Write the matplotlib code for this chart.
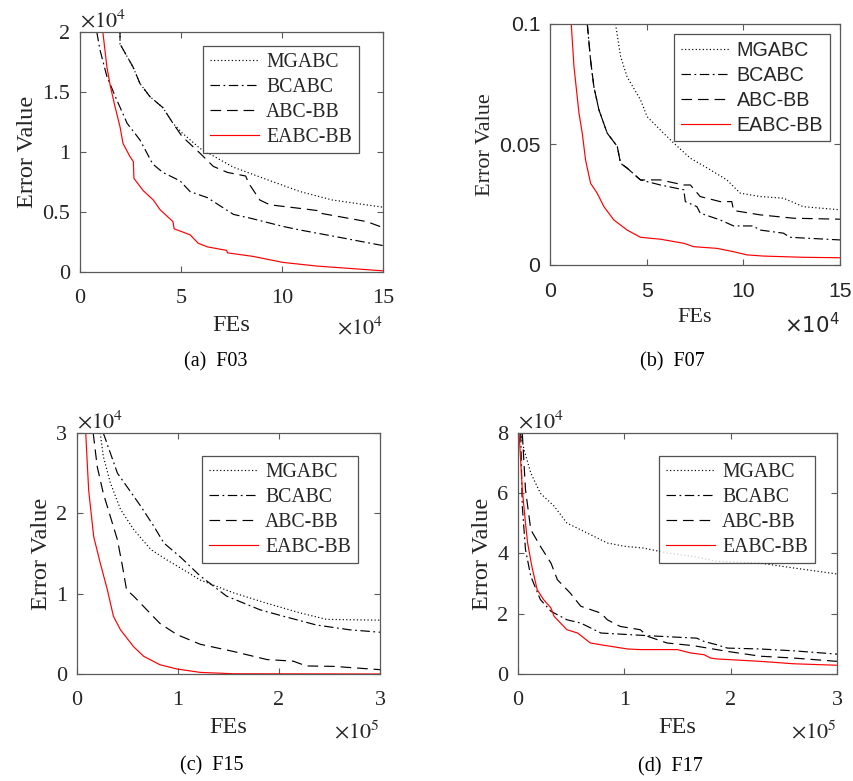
import matplotlib
matplotlib.use("Agg")
import matplotlib.pyplot as plt
from matplotlib.ticker import FuncFormatter

plt.rcParams["font.family"] = ["Liberation Serif", "DejaVu Serif"]
plt.rcParams["mathtext.fontset"] = "stix"

names = ["MGABC", "BCABC", "ABC-BB", "EABC-BB"]
dashes = [(1, 2), (8, 3, 1.5, 3), (9, 5), None]
colors = ["black", "black", "black", "red"]

# F03 (x in FEs, y in error)
f03_mg_x = [1.83e4, 1.98e4, 1.98e4, 2.62e4, 2.97e4, 3.47e4, 4.1e4, 4.6e4, 5.05e4, 5.94e4, 7.57e4, 9.26e4, 10.9e4, 12.5e4, 15e4]
f03_mg_y = [2.0e4, 2.0e4, 1.9e4, 1.71e4, 1.57e4, 1.46e4, 1.37e4, 1.24e4, 1.16e4, 1.03e4, 0.875e4, 0.77e4, 0.67e4, 0.6e4, 0.54e4]
f03_bc_x = [0.83e4, 0.99e4, 1.33e4, 1.83e4, 2.33e4, 2.97e4, 3.6e4, 4.1e4, 4.95e4, 5.45e4, 6.3e4, 7.6e4, 8.4e4, 10.05e4, 10.9e4, 12.5e4, 15e4]
f03_bc_y = [2.0e4, 1.85e4, 1.63e4, 1.43e4, 1.24e4, 1.1e4, 0.9e4, 0.83e4, 0.76e4, 0.67e4, 0.62e4, 0.48e4, 0.45e4, 0.38e4, 0.35e4, 0.30e4, 0.22e4]
f03_bb_x = [1.83e4, 1.98e4, 1.98e4, 2.62e4, 2.97e4, 3.47e4, 4.1e4, 4.6e4, 5.05e4, 5.94e4, 6.6e4, 7.3e4, 8.2e4, 8.35e4, 8.9e4, 9.4e4, 10.9e4, 11.85e4, 11.9e4, 14.2e4, 15e4]
f03_bb_y = [2.0e4, 2.0e4, 1.9e4, 1.71e4, 1.57e4, 1.46e4, 1.37e4, 1.24e4, 1.13e4, 0.99e4, 0.88e4, 0.83e4, 0.80e4, 0.74e4, 0.6e4, 0.56e4, 0.53e4, 0.51e4, 0.49e4, 0.42e4, 0.37e4]
f03_ea_x = [1.13e4, 1.33e4, 1.5e4, 1.73e4, 1.98e4, 2.13e4, 2.48e4, 2.64e4, 2.67e4, 3.12e4, 3.63e4, 3.96e4, 4.6e4, 4.66e4, 5.45e4, 5.85e4, 6.3e4, 7.26e4, 7.3e4, 8.57e4, 10.05e4, 11.7e4, 15e4]
f03_ea_y = [2.0e4, 1.71e4, 1.55e4, 1.38e4, 1.21e4, 1.07e4, 0.96e4, 0.92e4, 0.78e4, 0.68e4, 0.60e4, 0.52e4, 0.42e4, 0.36e4, 0.31e4, 0.24e4, 0.21e4, 0.18e4, 0.16e4, 0.13e4, 0.08e4, 0.05e4, 0.01e4]

# F07
f07_mg_x = [3.39e4, 3.65e4, 3.99e4, 4.68e4, 5.02e4, 5.71e4, 6.4e4, 7.26e4, 8.29e4, 9.15e4, 9.84e4, 10.87e4, 12.08e4, 13.1e4, 15e4]
f07_mg_y = [0.1, 0.0866, 0.078, 0.0686, 0.0616, 0.056, 0.0506, 0.0443, 0.0395, 0.0353, 0.0298, 0.0284, 0.0277, 0.0242, 0.0229]
f07_bc_x = [1.93e4, 2.1e4, 2.27e4, 2.53e4, 2.96e4, 3.48e4, 3.65e4, 3.99e4, 4.68e4, 5.71e4, 6.92e4, 7.0e4, 7.6e4, 7.77e4, 8.8e4, 9.5e4, 10.5e4, 10.87e4, 12.08e4, 12.4e4, 15e4]
f07_bc_y = [0.1, 0.085, 0.074, 0.0644, 0.0547, 0.0492, 0.0422, 0.0402, 0.0353, 0.0332, 0.0312, 0.0263, 0.0242, 0.0215, 0.0187, 0.0162, 0.0162, 0.0145, 0.0132, 0.0115, 0.0104]
f07_bb_x = [1.93e4, 2.1e4, 2.27e4, 2.53e4, 2.96e4, 3.48e4, 3.65e4, 3.99e4, 4.68e4, 5.71e4, 6.92e4, 7.26e4, 7.77e4, 8.8e4, 9.4e4, 9.5e4, 10.87e4, 12.6e4, 15e4]
f07_bb_y = [0.1, 0.085, 0.074, 0.0644, 0.0547, 0.0492, 0.0422, 0.0402, 0.0353, 0.0353, 0.0332, 0.0332, 0.0284, 0.0263, 0.0263, 0.0226, 0.0208, 0.0194, 0.019]
f07_ea_x = [1.1e4, 1.24e4, 1.5e4, 1.67e4, 1.84e4, 2.1e4, 2.44e4, 2.79e4, 3.3e4, 3.99e4, 4.68e4, 5.71e4, 6.92e4, 7.43e4, 8.64e4, 9.5e4, 10.18e4, 11.04e4, 13.1e4, 15e4]
f07_ea_y = [0.1, 0.0824, 0.063, 0.0547, 0.0436, 0.0339, 0.0298, 0.0242, 0.0187, 0.0145, 0.0115, 0.0107, 0.009, 0.0076, 0.0069, 0.0055, 0.0042, 0.0037, 0.0032, 0.003]

# F15
f15_mg_x = [0.23e5, 0.26e5, 0.33e5, 0.43e5, 0.56e5, 0.73e5, 0.89e5, 1.05e5, 1.22e5, 1.55e5, 1.88e5, 2.21e5, 2.47e5, 3.0e5]
f15_mg_y = [3.0e4, 2.71e4, 2.38e4, 2.05e4, 1.8e4, 1.55e4, 1.42e4, 1.3e4, 1.17e4, 1.01e4, 0.88e4, 0.76e4, 0.68e4, 0.67e4]
f15_bc_x = [0.26e5, 0.33e5, 0.4e5, 0.49e5, 0.63e5, 0.76e5, 0.86e5, 1.02e5, 1.22e5, 1.48e5, 1.81e5, 2.04e5, 2.37e5, 2.7e5, 3.0e5]
f15_bc_y = [3.0e4, 2.75e4, 2.5e4, 2.34e4, 2.09e4, 1.84e4, 1.63e4, 1.46e4, 1.22e4, 0.97e4, 0.8e4, 0.72e4, 0.61e4, 0.55e4, 0.52e4]
f15_bb_x = [0.16e5, 0.2e5, 0.26e5, 0.33e5, 0.4e5, 0.45e5, 0.49e5, 0.56e5, 0.69e5, 0.82e5, 0.99e5, 1.22e5, 1.55e5, 1.88e5, 2.14e5, 2.27e5, 2.54e5, 3.0e5]
f15_bb_y = [3.0e4, 2.58e4, 2.25e4, 1.96e4, 1.67e4, 1.34e4, 1.05e4, 0.97e4, 0.8e4, 0.63e4, 0.49e4, 0.37e4, 0.28e4, 0.18e4, 0.16e4, 0.10e4, 0.095e4, 0.054e4]
f15_ea_x = [0.086e5, 0.115e5, 0.165e5, 0.23e5, 0.3e5, 0.36e5, 0.43e5, 0.56e5, 0.66e5, 0.82e5, 0.99e5, 1.22e5, 1.55e5, 3.0e5]
f15_ea_y = [3.0e4, 2.29e4, 1.71e4, 1.38e4, 1.05e4, 0.72e4, 0.55e4, 0.34e4, 0.22e4, 0.116e4, 0.062e4, 0.02e4, 0.003e4, 0.0]

# F17
f17_mg_x = [0.025e5, 0.056e5, 0.12e5, 0.21e5, 0.34e5, 0.46e5, 0.65e5, 0.84e5, 1.0e5, 1.18e5, 1.4e5, 1.65e5, 1.87e5, 2.28e5, 2.59e5, 3.0e5]
f17_mg_y = [8.0e4, 7.45e4, 6.67e4, 6.0e4, 5.57e4, 5.01e4, 4.68e4, 4.35e4, 4.24e4, 4.18e4, 4.02e4, 3.9e4, 3.74e4, 3.68e4, 3.52e4, 3.32e4]
f17_bc_x = [0.025e5, 0.04e5, 0.07e5, 0.12e5, 0.21e5, 0.31e5, 0.46e5, 0.59e5, 0.78e5, 1.03e5, 1.34e5, 1.68e5, 1.75e5, 1.87e5, 1.97e5, 2.28e5, 2.59e5, 3.0e5]
f17_bc_y = [8.0e4, 5.57e4, 4.13e4, 3.24e4, 2.47e4, 2.08e4, 1.8e4, 1.69e4, 1.36e4, 1.31e4, 1.25e4, 1.19e4, 1.08e4, 0.97e4, 0.86e4, 0.83e4, 0.77e4, 0.66e4]
f17_bb_x = [0.04e5, 0.07e5, 0.12e5, 0.21e5, 0.31e5, 0.37e5, 0.49e5, 0.59e5, 0.78e5, 0.84e5, 0.96e5, 1.15e5, 1.22e5, 1.4e5, 1.65e5, 1.97e5, 2.28e5, 2.59e5, 3.0e5]
f17_bb_y = [8.0e4, 6.12e4, 4.79e4, 4.24e4, 3.68e4, 3.13e4, 2.69e4, 2.25e4, 2.02e4, 1.8e4, 1.58e4, 1.47e4, 1.25e4, 1.03e4, 0.94e4, 0.75e4, 0.59e4, 0.53e4, 0.42e4]
f17_ea_x = [0.01e5, 0.04e5, 0.07e5, 0.09e5, 0.13e5, 0.18e5, 0.24e5, 0.31e5, 0.34e5, 0.46e5, 0.56e5, 0.68e5, 0.78e5, 1.03e5, 1.15e5, 1.5e5, 1.62e5, 1.75e5, 1.81e5, 1.87e5, 2.28e5, 2.59e5, 3.0e5]
f17_ea_y = [8.0e4, 6.12e4, 5.01e4, 4.35e4, 3.57e4, 2.8e4, 2.47e4, 2.19e4, 1.91e4, 1.47e4, 1.36e4, 1.03e4, 0.97e4, 0.83e4, 0.81e4, 0.81e4, 0.70e4, 0.64e4, 0.53e4, 0.50e4, 0.42e4, 0.34e4, 0.29e4]

panels = [
    dict(rect=[0.0937, 0.6517, 0.3548, 0.3073], caption="(a)  F03", cap_xy=(216, 362),
         series=[(f03_mg_x, f03_mg_y), (f03_bc_x, f03_bc_y), (f03_bb_x, f03_bb_y), (f03_ea_x, f03_ea_y)],
         xmax=15e4, xscale=1e4, xexp=4, ymax=2e4, yscale=1e4, yexp=4,
         xticks=[0, 5e4, 10e4, 15e4], yticks=[0, 0.5e4, 1e4, 1.5e4, 2e4], sans=False,
         leg=(0.921, 0.942), mult_y=-0.233),
    dict(rect=[0.644, 0.6607, 0.3396, 0.3086], caption="(b)  F07", cap_xy=(672, 362),
         series=[(f07_mg_x, f07_mg_y), (f07_bc_x, f07_bc_y), (f07_bb_x, f07_bb_y), (f07_ea_x, f07_ea_y)],
         xmax=15e4, xscale=1e4, xexp=4, ymax=0.1, yscale=1, yexp=None,
         xticks=[0, 5e4, 10e4, 15e4], yticks=[0, 0.05, 0.1], sans=True,
         leg=(0.966, 0.959), mult_y=-0.25),
    dict(rect=[0.0902, 0.137, 0.3548, 0.3086], caption="(c)  F15", cap_xy=(212, 766),
         series=[(f15_mg_x, f15_mg_y), (f15_bc_x, f15_bc_y), (f15_bb_x, f15_bb_y), (f15_ea_x, f15_ea_y)],
         xmax=3e5, xscale=1e5, xexp=5, ymax=3e4, yscale=1e4, yexp=4,
         xticks=[0, 1e5, 2e5, 3e5], yticks=[0, 1e4, 2e4, 3e4], sans=False,
         leg=(0.927, 0.905), mult_y=-0.24),
    dict(rect=[0.6066, 0.137, 0.3735, 0.3086], caption="(d)  F17", cap_xy=(670, 767),
         series=[(f17_mg_x, f17_mg_y), (f17_bc_x, f17_bc_y), (f17_bb_x, f17_bb_y), (f17_ea_x, f17_ea_y)],
         xmax=3e5, xscale=1e5, xexp=5, ymax=8e4, yscale=1e4, yexp=4,
         xticks=[0, 1e5, 2e5, 3e5], yticks=[0, 2e4, 4e4, 6e4, 8e4], sans=False,
         leg=(0.931, 0.905), mult_y=-0.24),
]

W, H = 854, 781
fig = plt.figure(figsize=(W / 100, H / 100), dpi=100)
axis_color = "#5a5a5a"
text_color = "#262626"

for p in panels:
    ax = fig.add_axes(p["rect"])
    for (x, y), name, d, c in zip(p["series"], names, dashes, colors):
        line, = ax.plot(x, y, color=c, linewidth=0.85, label=name)
        if d is not None:
            line.set_dashes(d)
    ax.set_xlim(0, p["xmax"])
    ax.set_ylim(0, p["ymax"])
    ax.set_xticks(p["xticks"])
    ax.set_yticks(p["yticks"])
    xs, ys = p["xscale"], p["yscale"]
    ax.xaxis.set_major_formatter(FuncFormatter(lambda v, pos, s=xs: f"{v / s:g}"))
    ax.yaxis.set_major_formatter(FuncFormatter(lambda v, pos, s=ys: f"{v / s:g}"))
    tick_font = ["Liberation Sans"] if p["sans"] else ["Liberation Serif"]
    math_font = "dejavusans" if p["sans"] else "stix"
    tick_size = 15.3 if p["sans"] else 16
    for lab in ax.get_xticklabels() + ax.get_yticklabels():
        lab.set_family(tick_font)
        lab.set_fontsize(tick_size)
        lab.set_color(text_color)
    ax.tick_params(direction="in", top=True, right=True, length=4, width=0.8,
                   color=axis_color)
    ax.tick_params(axis="x", pad=12)
    ax.tick_params(axis="y", pad=7)
    for sp in ax.spines.values():
        sp.set_color(axis_color)
        sp.set_linewidth(0.9)
    lab_size = 16 if p["sans"] else 17.5
    ax.set_xlabel("FEs", fontsize=lab_size, color=text_color, labelpad=5)
    ax.set_ylabel("Error Value", fontsize=lab_size, color=text_color, labelpad=3)

    offs = "$\\times10^{%d}$"
    ax.text(1.0, p["mult_y"], offs % p["xexp"], transform=ax.transAxes, ha="right", va="center",
            fontsize=tick_size, color=text_color, math_fontfamily=math_font)
    if p["yexp"] is not None:
        ax.text(0.0, 1.0, offs % p["yexp"], transform=ax.transAxes, ha="left", va="bottom",
                fontsize=tick_size, color=text_color, math_fontfamily=math_font)
    cx, cy = p["cap_xy"]
    fig.text(cx / W, 1 - cy / H, p["caption"], ha="center", va="center",
             fontsize=14.5, color="black")

    leg = ax.legend(loc="upper right", bbox_to_anchor=p["leg"], borderaxespad=0,
                    fontsize=14.2, handlelength=2.5, frameon=True, fancybox=False,
                    borderpad=0.35, labelspacing=0.3, handletextpad=0.35)
    leg.get_frame().set_edgecolor("#262626")
    leg.get_frame().set_linewidth(0.9)
    for t in leg.get_texts():
        t.set_family(tick_font)
        t.set_color(text_color)

fig.savefig("out.png", dpi=100)
